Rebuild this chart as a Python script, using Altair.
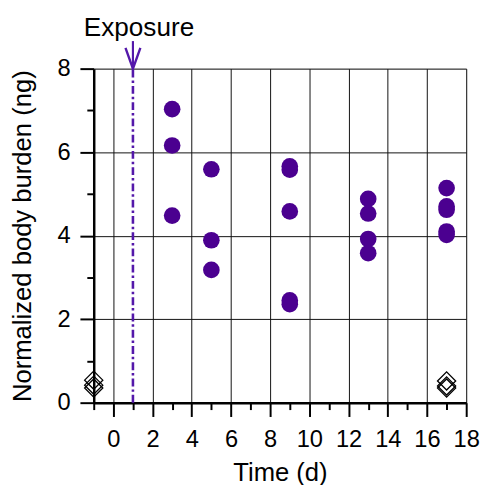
import altair as alt
import pandas as pd

# Treated samples (day, normalized body burden)
days = [3, 3, 3, 5, 5, 5, 9, 9, 9, 9, 9, 13, 13, 13, 13, 17, 17, 17, 17, 17]
burden = [7.03, 6.16, 4.48, 5.59, 3.89, 3.18, 5.66, 5.58, 4.58, 2.45, 2.36,
          4.88, 4.53, 3.92, 3.58, 5.14, 4.70, 4.62, 4.10, 4.02]

# Controls (open diamonds)
ctrl_days = [-1, -1, -1, 17, 17, 17]
ctrl_burden = [0.54, 0.42, 0.35, 0.52, 0.40, 0.35]

exposure_day = [1]
exposure_label = ["Exposure"]

x_ticks = list(range(-1, 19))
y_ticks = list(range(0, 9))

purple = "#4B0090"
line_purple = "#5418AA"

pts = pd.DataFrame({"day": days, "val": burden})
ctrl = pd.DataFrame({"day": ctrl_days, "val": ctrl_burden})
expo = pd.DataFrame({"day": exposure_day, "y0": [0], "y1": [8], "y2": [8.66],
                     "tx": [1.31], "lab": exposure_label})

x_scale = alt.Scale(domain=[-1, 18], nice=False, zero=False)
y_scale = alt.Scale(domain=[0, 8], nice=False, zero=False)

even = "abs(datum.value) % 2 < 0.5"

common = dict(
    labelExpr=f"({even}) ? datum.label : ''",
    tickSize={"condition": {"test": even, "value": 14}, "value": 7},
    gridOpacity={"condition": {"test": even, "value": 1}, "value": 0},
    grid=True, gridColor="#111111", gridWidth=1,
    domainColor="black", domainWidth=2.5, tickColor="black", tickWidth=2,
    labelFont="Liberation Sans", labelFontSize=24, labelColor="black",
    labelFlush=False, labelOverlap=False,
    titleFont="Liberation Sans", titleFontSize=26, titleFontWeight="normal",
    titleColor="black",
)
x_axis = alt.Axis(title="Time (d)", values=x_ticks, titlePadding=9,
                  labelPadding=11, **common)
y_axis = alt.Axis(title="Normalized body burden (ng)", values=y_ticks,
                  titlePadding=22, labelPadding=10, **common)


def X(field):
    return alt.X(field, type="quantitative", scale=x_scale, axis=x_axis)


def Y(field):
    return alt.Y(field, type="quantitative", scale=y_scale, axis=y_axis)


points = alt.Chart(pts).mark_circle(color=purple, opacity=1, size=285).encode(
    x=X("day"), y=Y("val"))

diamonds = alt.Chart(ctrl).mark_point(
    shape="diamond", filled=False, color="black", strokeWidth=1.3, size=340, opacity=1
).encode(x=X("day"), y=Y("val"))

dash_line = alt.Chart(expo).mark_rule(
    color=line_purple, strokeWidth=2.6, strokeDash=[8, 3, 2.5, 3]
).encode(x=X("day"), y=Y("y0"), y2="y1:Q")

shaft = alt.Chart(expo).mark_rule(color=line_purple, strokeWidth=2.2, clip=False).encode(
    x=X("day"), y=Y("y1"), y2="y2:Q")

head = alt.Chart(expo).mark_point(
    shape="M-0.36,-1L0,0L0.36,-1", filled=False, color=line_purple, strokeWidth=2.4,
    size=1764, opacity=1, clip=False
).encode(x=X("day"), y=Y("y1"))

label = alt.Chart(expo).mark_text(
    font="Liberation Sans", fontSize=26.5, color="black", baseline="alphabetic",
    align="center", dy=-33, clip=False
).encode(x=X("tx"), y=Y("y1"), text="lab:N")

chart = alt.layer(points, diamonds, dash_line, shaft, head, label).properties(
    width=378, height=339,
    autosize=alt.AutoSizeParams(type="none"),
    padding={"left": 87, "top": 58, "right": 14, "bottom": 80},
).configure_view(stroke=None).configure(background="white")

chart.save("out.html", embed_options={"renderer": "svg", "actions": False})
